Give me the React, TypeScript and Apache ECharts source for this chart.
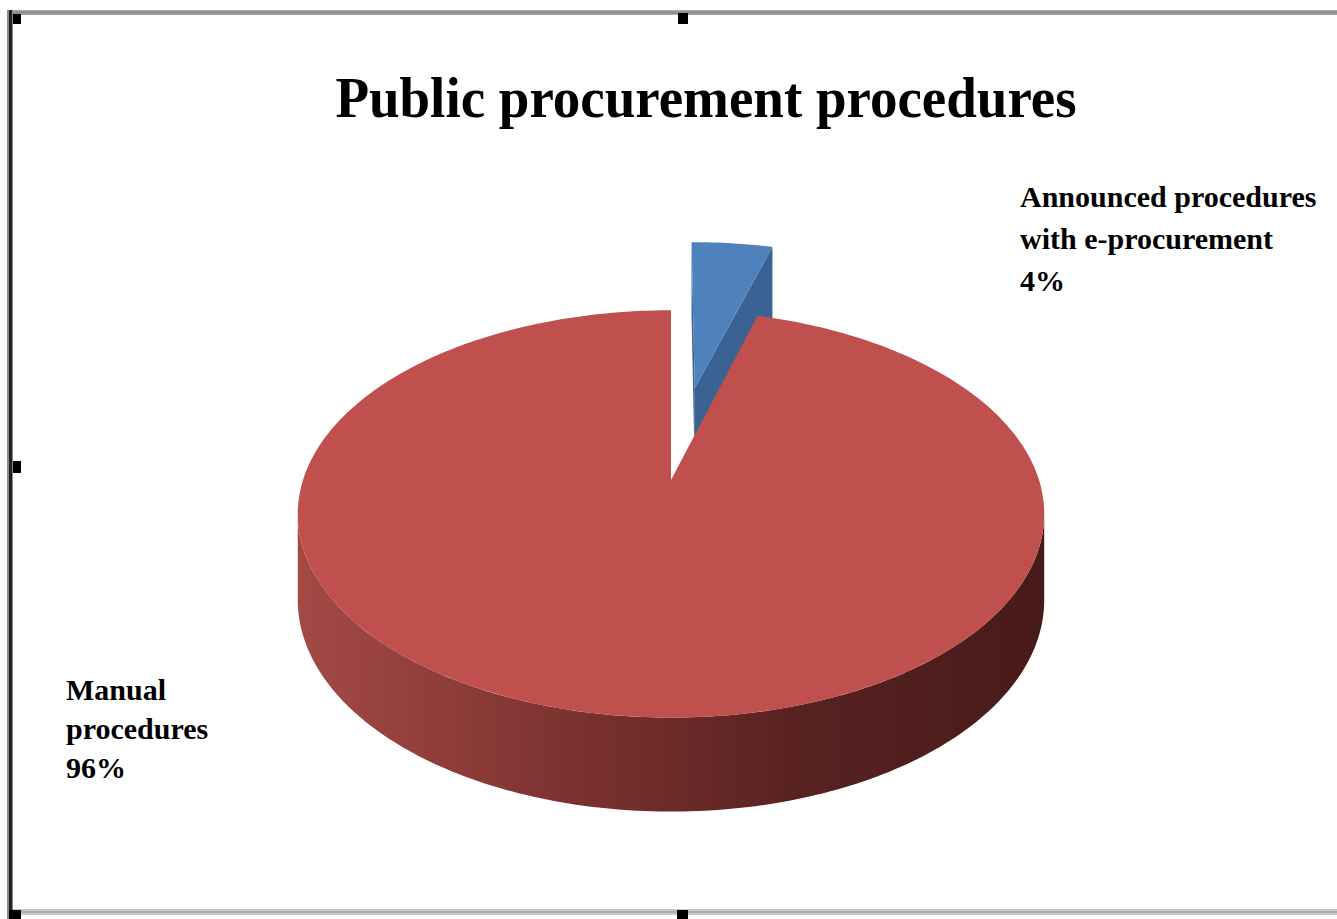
import React, { useEffect, useRef } from 'react';
import * as echarts from 'echarts';

// ---- data ----
const categories = ['Announced procedures\nwith e-procurement', 'Manual\nprocedures'];
const values = [4.4, 95.6];
const sliceColors = ['#4f81bd', '#c0504d'];
const sideColors = ['#3a6292', '#8b3a38'];
const chartTitle = 'Public procurement procedures';

// ---- geometry / style (not data) ----
const CX = 671, CY = 480, A = 368, B = 198, P = 1 / 6, H0 = 84.6, Q = 0.1;
const EXPLODE = [0.507, 0];
const LABEL_POS = [
  { x: 1020, y: 175, lh: 42 },
  { x: 66, y: 670, lh: 39 },
];
const RAD = Math.PI / 180;
const FONT = '"Liberation Serif", "Times New Roman", serif';

function proj(X: number, Z: number, bottom: boolean): number[] {
  const w = 1 + P * Z;
  const x = CX + (A * X) / w;
  let y = CY - (B * Z) / w;
  if (bottom) y += H0 / (1 + Q * Z);
  return [x, y];
}

function area(pts: number[][]): number {
  let s = 0;
  for (let i = 0; i < pts.length; i++) {
    const a = pts[i], b = pts[(i + 1) % pts.length];
    s += a[0] * b[1] - b[0] * a[1];
  }
  return s / 2;
}

function renderItem(params: any) {
  const i = params.dataIndex;
  const total = values.reduce((a, b) => a + b, 0);
  let start = 0;
  for (let j = 0; j < i; j++) start += (values[j] / total) * 360;
  const end = start + (values[i] / total) * 360;
  const mid = ((start + end) / 2) * RAD;
  const e = EXPLODE[i];
  const ox = e * Math.sin(mid), oz = e * Math.cos(mid);
  const pt = (deg: number, r: number, bottom: boolean) =>
    proj(ox + r * Math.sin(deg * RAD), oz + r * Math.cos(deg * RAD), bottom);

  const children: any[] = [];
  const cTop = pt(0, 0, false), cBot = pt(0, 0, true);

  // radial faces
  const endFace = [cTop, pt(end, 1, false), pt(end, 1, true), cBot];
  if (area(endFace) > 1) {
    children.push({ type: 'polygon', shape: { points: endFace }, style: { fill: sideColors[i] } });
  }
  const startFace = [pt(start, 1, false), cTop, cBot, pt(start, 1, true)];
  if (area(startFace) > 1) {
    children.push({ type: 'polygon', shape: { points: startFace }, style: { fill: sideColors[i] } });
  }

  // outer wall
  const thR = Math.acos(-P) / RAD;
  const thL = 360 - thR;
  const wl = Math.max(start, thR), wr = Math.min(end, thL);
  if (wr > wl) {
    const topPts: number[][] = [], botPts: number[][] = [];
    const n = Math.max(2, Math.ceil(wr - wl));
    for (let k = 0; k <= n; k++) {
      const d = wl + ((wr - wl) * k) / n;
      topPts.push(pt(d, 1, false));
      botPts.push(pt(d, 1, true));
    }
    const wall = topPts.concat(botPts.reverse());
    children.push({
      type: 'polygon',
      shape: { points: wall },
      style: {
        fill: new echarts.graphic.LinearGradient(0, 0, 1, 0, [
          { offset: 0, color: '#a34946' },
          { offset: 0.15, color: '#94403d' },
          { offset: 0.4, color: '#77302d' },
          { offset: 0.65, color: '#5a2322' },
          { offset: 1, color: '#471a1a' },
        ]),
      },
    });
  }

  // top face
  const top: number[][] = [cTop];
  const n = Math.max(2, Math.ceil(end - start));
  for (let k = 0; k <= n; k++) top.push(pt(start + ((end - start) * k) / n, 1, false));
  children.push({ type: 'polygon', shape: { points: top }, style: { fill: sliceColors[i] } });

  // label
  const lp = LABEL_POS[i];
  const pct = Math.round((values[i] / total) * 100);
  children.push({
    type: 'text',
    x: lp.x,
    y: lp.y,
    style: {
      text: categories[i] + '\n' + pct + '%',
      font: 'bold 30px ' + FONT,
      fill: '#000',
      lineHeight: lp.lh,
      textAlign: 'left',
      textVerticalAlign: 'top',
    },
  });

  return { type: 'group', children };
}

export default function App() {
  const ref = useRef<HTMLDivElement>(null);
  useEffect(() => {
    if (!ref.current) return;
    const chart = echarts.init(ref.current, null, { renderer: 'svg' });
    chart.setOption({
      animation: false,
      backgroundColor: '#ffffff',
      graphic: [
        // frame
        { type: 'rect', shape: { x: 7, y: 10, width: 1330, height: 5 }, style: { fill: '#a6a6a6' } },
        { type: 'rect', shape: { x: 7, y: 11.5, width: 1330, height: 2 }, style: { fill: '#8a8a8a' } },
        { type: 'rect', shape: { x: 7, y: 909, width: 1330, height: 6 }, style: { fill: '#c8c8c8' } },
        { type: 'rect', shape: { x: 7, y: 911, width: 1330, height: 2 }, style: { fill: '#adadad' } },
        { type: 'rect', shape: { x: 7, y: 10, width: 6, height: 909 }, style: { fill: '#8a8a8a' } },
        { type: 'rect', shape: { x: 9, y: 10, width: 3, height: 909 }, style: { fill: '#222' } },
        // handles
        { type: 'rect', shape: { x: 13, y: 14, width: 8, height: 10 }, style: { fill: '#000' } },
        { type: 'rect', shape: { x: 678, y: 13, width: 10, height: 11 }, style: { fill: '#000' } },
        { type: 'rect', shape: { x: 13, y: 461, width: 8, height: 12 }, style: { fill: '#000' } },
        { type: 'rect', shape: { x: 9, y: 910, width: 12, height: 9 }, style: { fill: '#000' } },
        { type: 'rect', shape: { x: 677, y: 910, width: 11, height: 9 }, style: { fill: '#000' } },
        // title
        {
          type: 'text',
          x: 706,
          y: 98,
          scaleY: 1.05,
          style: {
            text: chartTitle,
            font: 'bold 55px ' + FONT,
            fill: '#000',
            textAlign: 'center',
            textVerticalAlign: 'middle',
          },
        },
      ],
      series: [
        {
          type: 'custom',
          coordinateSystem: 'none',
          silent: true,
          renderItem,
          data: values.map((v, i) => ({ name: categories[i], value: v })),
        },
      ],
    });
    return () => chart.dispose();
  }, []);
  return <div ref={ref} style={{ position: 'absolute', left: 0, top: 0, width: 1337, height: 919 }} />;
}
